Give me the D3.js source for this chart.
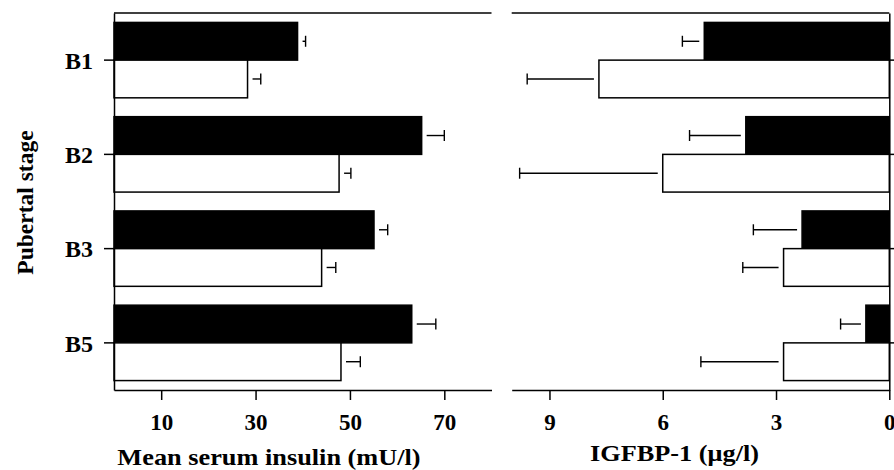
<!DOCTYPE html>
<html>
<head>
<meta charset="utf-8">
<script src="https://cdn.jsdelivr.net/npm/d3@7"></script>
<style>
  body { margin: 0; background: #fff; }
  svg { display: block; }
  text { font-family: "Liberation Serif", "Times New Roman", serif; font-weight: bold; fill: #000; }
</style>
</head>
<body>
<svg id="chart" width="894" height="470"></svg>
<script>
const stages = ["B1", "B2", "B3", "B5"];

// mean serum insulin (mU/l)
const insulinBlack = [38.9, 65.2, 55.1, 63.1];
const insulinBlackSE = [1.7, 4.8, 2.9, 5.1];
const insulinWhite = [28.3, 47.7, 44.0, 48.1];
const insulinWhiteSE = [2.8, 2.5, 3.0, 4.1];

// IGFBP-1 (ug/l)
const igfbpBlack = [4.9, 3.8, 2.31, 0.62];
const igfbpBlackSE = [0.58, 1.49, 1.29, 0.67];
const igfbpWhite = [7.69, 6.0, 2.8, 2.8];
const igfbpWhiteSE = [1.9, 3.79, 1.08, 2.19];

const insulinTicks = [10, 30, 50, 70];
const igfbpTicks = [9, 6, 3, 0];

const svg = d3.select("#chart");
const yTop = 13, yBottom = 390;

const y = d3.scaleBand().domain(stages).range([yTop, yBottom]).paddingInner(0.2).paddingOuter(0.1);
const xL = d3.scaleLinear().domain([0, 80]).range([114, 491.5]);
const xR = d3.scaleLinear().domain([10, 0]).range([511.7, 889.3]);

const half = y.bandwidth() / 2;
const gap = 5, cap = 5.5;

function rows(black, blackSE, white, whiteSE) {
  return stages.flatMap((s, i) => [
    { stage: s, v: black[i], se: blackSE[i], fill: "#000", off: 0 },
    { stage: s, v: white[i], se: whiteSE[i], fill: "#fff", off: half }
  ]);
}

function panel(x, data, dir) {
  const g = svg.append("g");
  const x0 = x(0);

  g.selectAll("rect").data(data).join("rect")
    .attr("x", d => Math.min(x0, x(d.v)))
    .attr("y", d => y(d.stage) + d.off)
    .attr("width", d => Math.abs(x(d.v) - x0))
    .attr("height", half)
    .attr("fill", d => d.fill)
    .attr("stroke", "#000")
    .attr("stroke-width", 1.5);

  // error bars, drawn away from the bar end with a small gap
  const eb = g.selectAll("g.err").data(data).join("g").attr("class", "err")
    .attr("stroke", "#000").attr("stroke-width", 1.4);
  eb.append("line")
    .attr("x1", d => x(d.v) + dir * gap)
    .attr("x2", d => x(d.v + d.se))
    .attr("y1", d => y(d.stage) + d.off + half / 2)
    .attr("y2", d => y(d.stage) + d.off + half / 2);
  eb.append("line")
    .attr("x1", d => x(d.v + d.se))
    .attr("x2", d => x(d.v + d.se))
    .attr("y1", d => y(d.stage) + d.off + half / 2 - cap)
    .attr("y2", d => y(d.stage) + d.off + half / 2 + cap);
  return g;
}

panel(xL, rows(insulinBlack, insulinBlackSE, insulinWhite, insulinWhiteSE), 1);
panel(xR, rows(igfbpBlack, igfbpBlackSE, igfbpWhite, igfbpWhiteSE), -1);

// axes
const axL = svg.append("g").attr("transform", `translate(0,${yBottom})`)
  .call(d3.axisBottom(xL).tickValues(insulinTicks).tickSize(10).tickPadding(14).tickSizeOuter(0));
const axR = svg.append("g").attr("transform", `translate(0,${yBottom})`)
  .call(d3.axisBottom(xR).tickValues(igfbpTicks).tickSize(10).tickPadding(14).tickSizeOuter(0));
const ayL = svg.append("g").attr("transform", `translate(${xL(0)},0)`)
  .call(d3.axisLeft(y).tickSize(10).tickPadding(11).tickSizeOuter(0));
const ayR = svg.append("g").attr("transform", `translate(${xR(0)},0)`)
  .call(d3.axisRight(y).tickSize(5).tickFormat("").tickSizeOuter(0));

[axL, axR, ayL, ayR].forEach(a => {
  a.selectAll("path, line").attr("stroke", "#000").attr("stroke-width", 1.5);
  a.selectAll("text").style("font-size", "23px").attr("font-family", null);
});
ayL.selectAll("text").style("font-size", "24px").attr("dy", "0.36em");

// top border lines
svg.append("line").attr("x1", xL(0)).attr("x2", xL(80)).attr("y1", yTop).attr("y2", yTop)
  .attr("stroke", "#000").attr("stroke-width", 1.5);
svg.append("line").attr("x1", xR(10)).attr("x2", xR(0)).attr("y1", yTop).attr("y2", yTop)
  .attr("stroke", "#000").attr("stroke-width", 1.5);

// titles (the original type is a little wider than Liberation Serif)
svg.append("text").attr("transform", "translate(269,465) scale(1.12,1)").attr("text-anchor", "middle")
  .style("font-size", "23.5px").text("Mean serum insulin (mU/l)");
svg.append("text").attr("transform", "translate(674.5,461) scale(1.12,1)").attr("text-anchor", "middle")
  .style("font-size", "23.5px").text("IGFBP-1 (μg/l)");
svg.append("text").attr("transform", "translate(33,202.5) rotate(-90)").attr("text-anchor", "middle")
  .style("font-size", "23.5px").text("Pubertal stage");
</script>
</body>
</html>
